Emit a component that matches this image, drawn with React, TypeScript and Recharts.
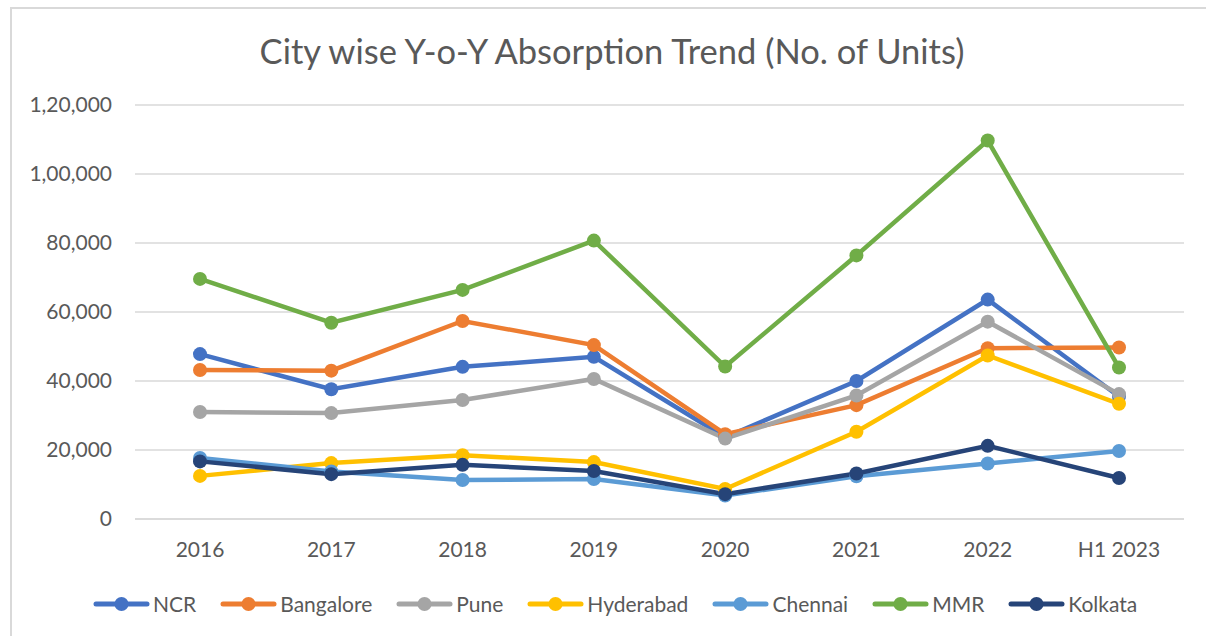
import React from 'react';
import { LineChart, Line, XAxis, YAxis, CartesianGrid } from 'recharts';

const years = ['2016', '2017', '2018', '2019', '2020', '2021', '2022', 'H1 2023'];

const ncr = [47800, 37600, 44100, 47000, 23700, 40000, 63600, 35500];
const bangalore = [43200, 43000, 57400, 50400, 24600, 33000, 49500, 49700];
const pune = [31000, 30700, 34500, 40600, 23300, 35800, 57200, 36200];
const hyderabad = [12500, 16200, 18500, 16500, 8700, 25300, 47400, 33400];
const chennai = [17700, 13800, 11300, 11600, 6800, 12400, 16100, 19700];
const mmr = [69600, 56900, 66400, 80700, 44200, 76400, 109700, 43900];
const kolkata = [16700, 13000, 15700, 13900, 7200, 13200, 21200, 11900];

const yTicks = [0, 20000, 40000, 60000, 80000, 100000, 120000];

const series = [
  { key: 'NCR', values: ncr, color: '#4472C4' },
  { key: 'Bangalore', values: bangalore, color: '#ED7D31' },
  { key: 'Pune', values: pune, color: '#A5A5A5' },
  { key: 'Hyderabad', values: hyderabad, color: '#FFC000' },
  { key: 'Chennai', values: chennai, color: '#5B9BD5' },
  { key: 'MMR', values: mmr, color: '#70AD47' },
  { key: 'Kolkata', values: kolkata, color: '#264478' },
];

const data = years.map((year, i) => {
  const row: Record<string, string | number> = { year };
  series.forEach(s => {
    row[s.key] = s.values[i];
  });
  return row;
});

// Indian digit grouping: 1,20,000
function formatIndian(v: number) {
  const s = String(v);
  if (s.length <= 3) return s;
  const last3 = s.slice(-3);
  let rest = s.slice(0, -3);
  const parts: string[] = [];
  while (rest.length > 2) {
    parts.unshift(rest.slice(-2));
    rest = rest.slice(0, -2);
  }
  if (rest) parts.unshift(rest);
  return parts.join(',') + ',' + last3;
}

const FONT = 'Lato, "Open Sans", sans-serif';
const GRAY = '#595959';

function ChartLegend() {
  return (
    <div
      style={{
        position: 'absolute',
        left: 93,
        top: 591,
        display: 'flex',
        alignItems: 'center',
        fontFamily: FONT,
        fontSize: 21,
        color: GRAY,
        whiteSpace: 'nowrap',
      }}
    >
      {series.map(s => (
        <div key={s.key} style={{ display: 'flex', alignItems: 'center', marginRight: 24 }}>
          <svg width={57} height={16} style={{ marginRight: 3 }}>
            <line x1={3} y1={8} x2={54} y2={8} stroke={s.color} strokeWidth={5} strokeLinecap="round" />
            <circle cx={28.5} cy={8} r={7} fill={s.color} />
          </svg>
          <span>{s.key}</span>
        </div>
      ))}
    </div>
  );
}

export default function App() {
  return (
    <div style={{ position: 'absolute', left: 0, top: 0, width: 1206, height: 636, overflow: 'hidden', background: '#fff' }}>
      <div
        style={{
          position: 'absolute',
          left: 10,
          top: 7,
          width: 1220,
          height: 650,
          border: '2px solid #d9d9d9',
        }}
      />
      <div
        style={{
          position: 'absolute',
          left: 0,
          top: 30,
          width: 1224,
          textAlign: 'center',
          fontFamily: FONT,
          fontSize: 34.5,
          color: GRAY,
        }}
      >
        City wise Y-o-Y Absorption Trend (No. of Units)
      </div>
      <div style={{ position: 'absolute', left: 0, top: 0 }}>
        <LineChart width={1206} height={636} data={data} margin={{ top: 105, right: 22, bottom: 0, left: 0 }}>
          <CartesianGrid vertical={false} stroke="#d9d9d9" strokeWidth={1.5} />
          <XAxis
            dataKey="year"
            padding={{ left: 65, right: 65 }}
            axisLine={{ stroke: '#d9d9d9', strokeWidth: 1.5 }}
            tickLine={false}
            tickSize={0}
            tickMargin={23}
            tick={{ fill: GRAY, fontSize: 21, fontFamily: FONT }}
            height={117}
          />
          <YAxis
            domain={[0, 120000]}
            ticks={yTicks}
            tickFormatter={formatIndian}
            axisLine={false}
            tickLine={false}
            tickSize={0}
            tickMargin={23}
            width={135}
            tick={{ fill: GRAY, fontSize: 21, fontFamily: FONT }}
          />
          {series.map(s => (
            <Line
              key={s.key}
              dataKey={s.key}
              stroke={s.color}
              strokeWidth={4.5}
              dot={{ r: 7, fill: s.color, stroke: s.color, strokeWidth: 0 }}
              activeDot={false}
              isAnimationActive={false}
            />
          ))}
        </LineChart>
      </div>
      <ChartLegend />
    </div>
  );
}
